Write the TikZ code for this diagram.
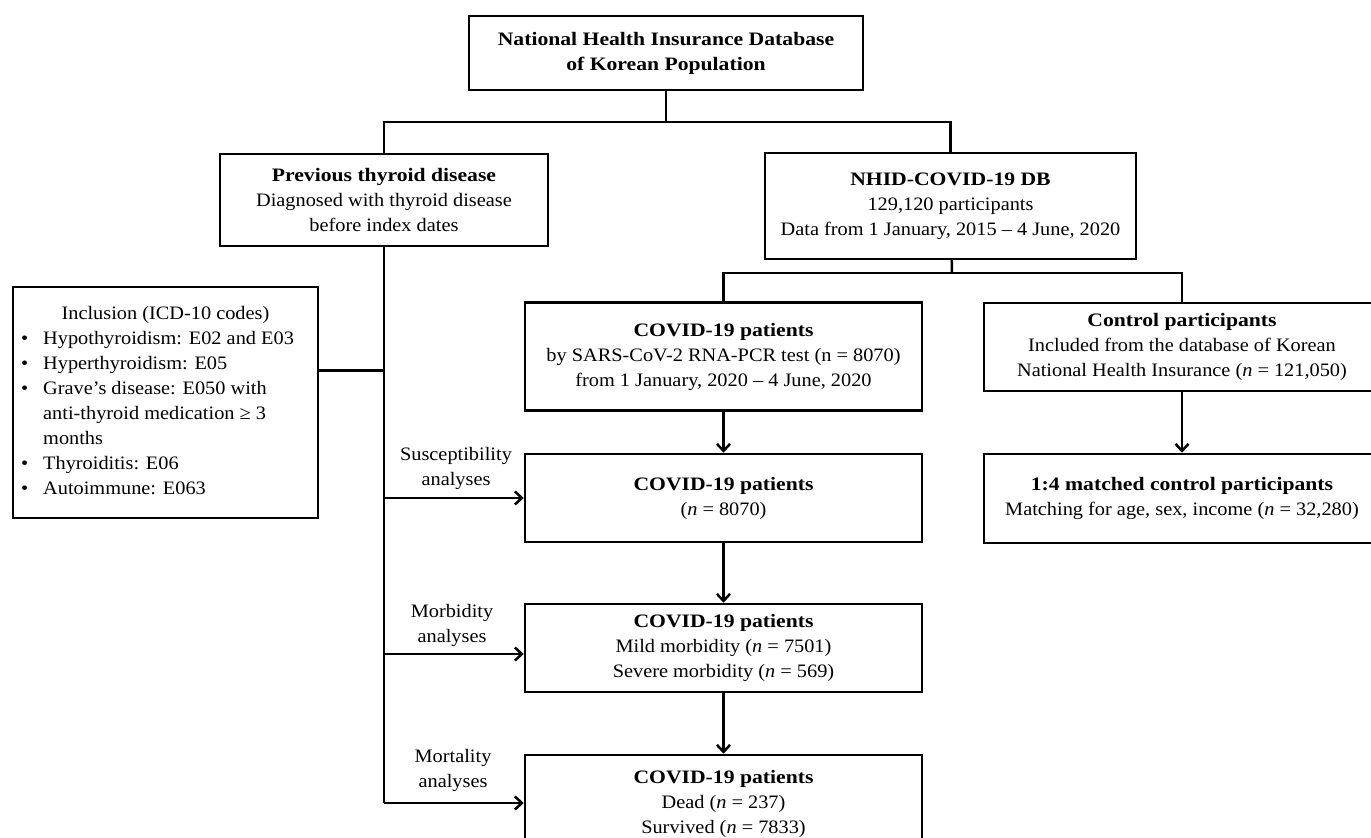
\documentclass[tikz,border=0pt]{standalone}
\usepackage{fontspec}
\setmainfont{Liberation Serif}[FakeStretch=1.07, BoldFeatures={FakeStretch=1.14}]
\usetikzlibrary{arrows.meta, positioning}

\begin{document}
\begin{tikzpicture}[x=0.5pt, y=-0.5pt,
  line width=1.25pt,
  >={Straight Barb[length=3.5pt,width=6.5pt]},
  box/.style={draw, rectangle, align=center, inner sep=0pt, font=\fontsize{9.5}{12.5}\selectfont},
  lbl/.style={align=center, inner sep=0pt, font=\fontsize{9.5}{12.5}\selectfont}]
\useasboundingbox (0,0) rectangle (1371,838);
% boxes
\node[box, minimum width=197pt, minimum height=37pt] (db) at (666,53) {\textbf{National Health Insurance Database}\\ \textbf{of Korean Population}};
\node[box, minimum width=164pt, minimum height=46pt] (prev) at (384,200) {\textbf{Previous thyroid disease}\\ Diagnosed with thyroid disease\\ before index dates};
\node[box, minimum width=185.5pt, minimum height=53pt] (nhid) at (950.5,206) {\textbf{NHID-COVID-19 DB}\\ 129,120 participants\\ Data from 1 January, 2015 – 4 June, 2020};
\node[box, minimum width=152.5pt, minimum height=115.5pt] (incl) at (165.5,402.5) {%
  \begin{tabular}{@{}l@{\hspace{7.5pt}}l@{}}
  \multicolumn{2}{c}{\hspace{8pt}Inclusion (ICD-10 codes)}\\
  \textbullet & Hypothyroidism: E02 and E03\\
  \textbullet & Hyperthyroidism: E05\\
  \textbullet & Grave’s disease: E050 with\\
   & anti-thyroid medication ≥ 3\\
   & months\\
  \textbullet & Thyroiditis: E06\\
  \textbullet & Autoimmune: E063
  \end{tabular}\hspace*{8pt}};
\node[box, minimum width=198.5pt, minimum height=54pt] (cov1) at (723.5,356.5) {\textbf{COVID-19 patients}\\ by SARS-CoV-2 RNA-PCR test (n = 8070)\\ from 1 January, 2020 – 4 June, 2020};
\node[box, minimum width=198pt, minimum height=44pt] (ctrl) at (1182,347) {\textbf{Control participants}\\ Included from the database of Korean\\ National Health Insurance (\textit{n} = 121,050)};
\node[box, minimum width=198.5pt, minimum height=44pt] (cov2) at (723.5,498) {\textbf{COVID-19 patients}\\ (\textit{n} = 8070)};
\node[box, minimum width=198pt, minimum height=44.5pt] (match) at (1182,498.5) {\textbf{1:4 matched control participants}\\ Matching for age, sex, income (\textit{n} = 32,280)};
\node[box, minimum width=198.5pt, minimum height=44pt] (cov3) at (723.5,648) {\textbf{COVID-19 patients}\\ Mild morbidity (\textit{n} = 7501)\\ Severe morbidity (\textit{n} = 569)};
\node[box, minimum width=198.5pt, minimum height=49pt] (cov4) at (723.5,804) {\textbf{COVID-19 patients}\\ Dead (\textit{n} = 237)\\ Survived (\textit{n} = 7833)};
% labels
\node[lbl] (suscept) at (456,468) {Susceptibility\\ analyses};
\node[lbl] (morb) at (452,625) {Morbidity\\ analyses};
\node[lbl] (mort) at (453,770) {Mortality\\ analyses};
% connectors
\coordinate (split1) at (666,122);
\coordinate (split2) at (952,273);
\draw (db) -- (split1);
\draw (prev.north) |- (split1) -| (nhid.north);
\draw (nhid) -- (split2);
\draw (cov1.north) |- (split2) -| (ctrl.north);
\draw [->] (cov1) -- (cov2);
\draw [->] (cov2) -- (cov3);
\draw [->] (cov3) -- (cov4);
\draw [->] (ctrl) -- (match);
\draw (prev) -- (prev.south |- 0,803);
\draw ([yshift=16pt]incl.east) -- ([yshift=16pt]incl.east -| prev.south);
\draw [->] (prev.south |- cov2.west) -- (cov2.west);
\draw [->] (prev.south |- 0,654) -- (cov3.west |- 0,654);
\draw [->] (prev.south |- 0,803) -- (cov4.west |- 0,803);
\end{tikzpicture}
\end{document}
